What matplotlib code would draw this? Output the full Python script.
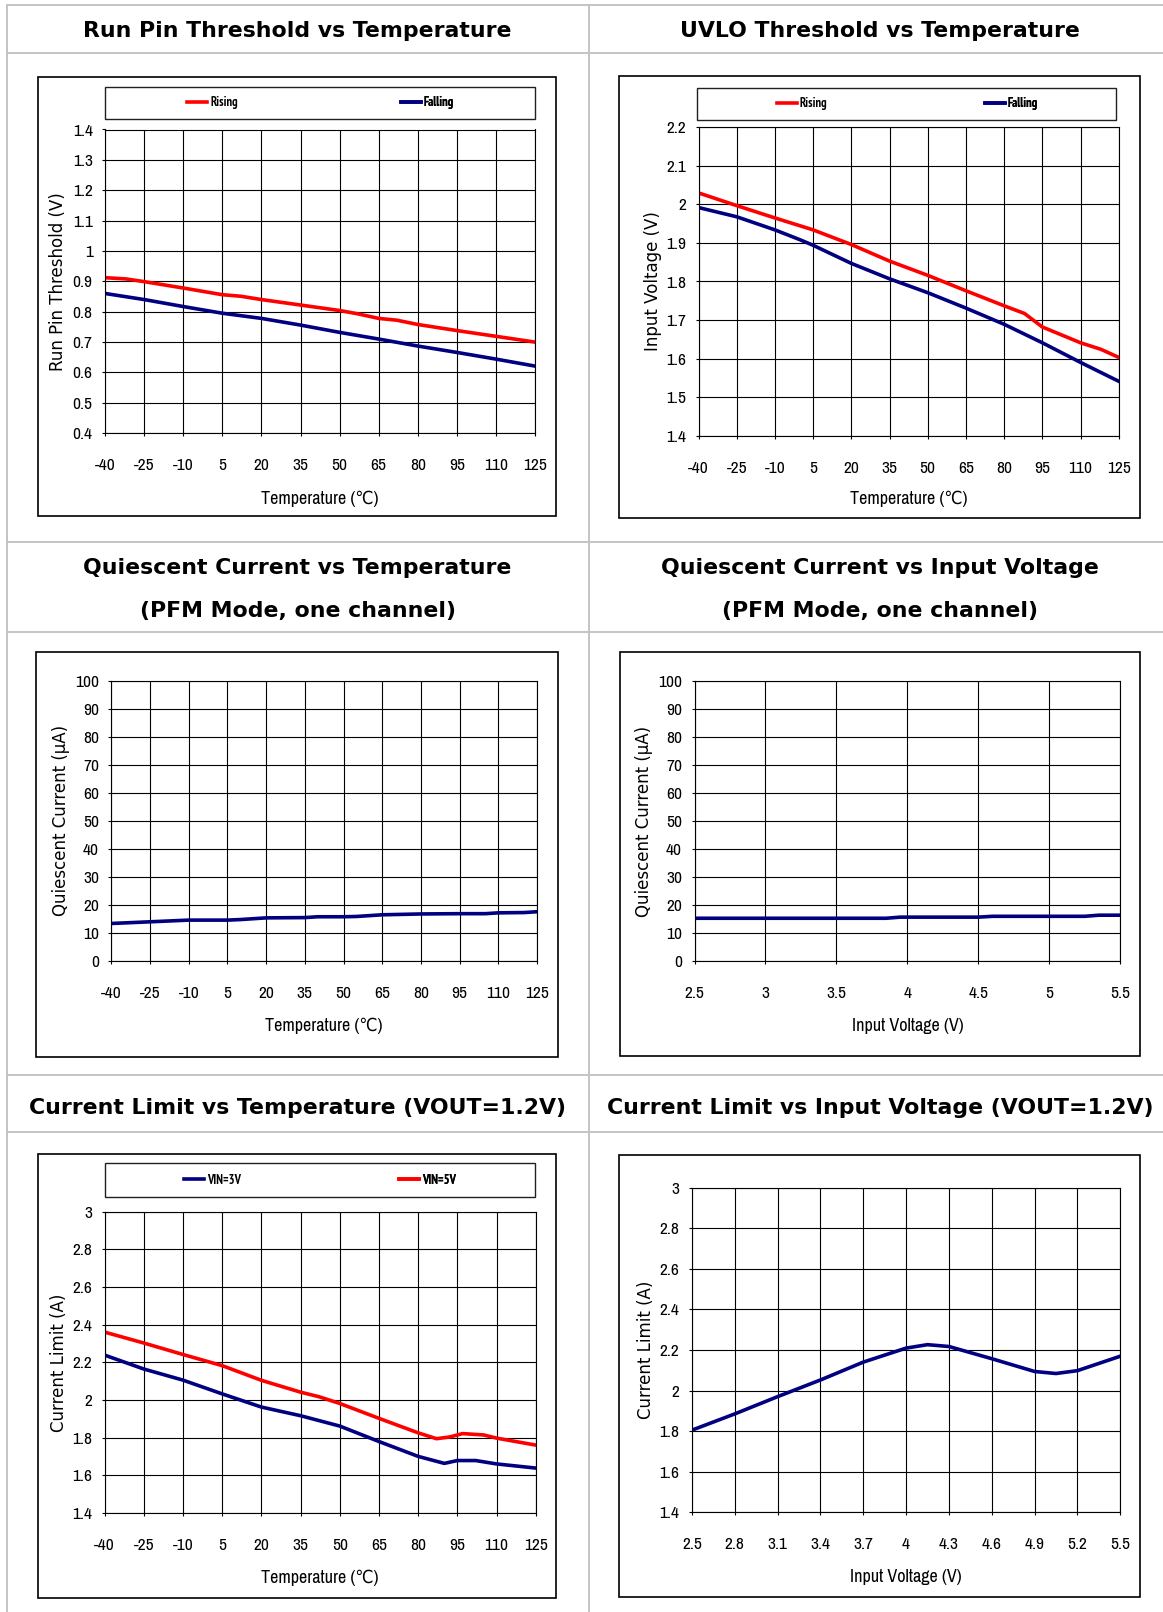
import matplotlib
matplotlib.use('Agg')
import matplotlib.pyplot as plt
from matplotlib import font_manager
from matplotlib.font_manager import FontProperties
from matplotlib.lines import Line2D
from matplotlib.patches import Rectangle

# ---- data ----
TEMP_TICKS = [-40, -25, -10, 5, 20, 35, 50, 65, 80, 95, 110, 125]
VIN_TICKS_IQ = [2.5, 3, 3.5, 4, 4.5, 5, 5.5]
VIN_TICKS_ILIM = [2.5, 2.8, 3.1, 3.4, 3.7, 4, 4.3, 4.6, 4.9, 5.2, 5.5]

RUN_YTICKS = [0.4, 0.5, 0.6, 0.7, 0.8, 0.9, 1, 1.1, 1.2, 1.3, 1.4]
RUN_RISE_T = [-40, -32, -25, -10, 5, 12, 20, 35, 50, 57, 65, 72, 80, 95, 110, 125]
RUN_RISE_V = [0.912, 0.908, 0.899, 0.878, 0.856, 0.851, 0.840, 0.822, 0.804, 0.793,
              0.778, 0.772, 0.758, 0.738, 0.719, 0.700]
RUN_FALL_T = [-40, -25, -10, 5, 20, 35, 50, 65, 80, 95, 110, 125]
RUN_FALL_V = [0.860, 0.840, 0.817, 0.795, 0.778, 0.756, 0.732, 0.710, 0.687, 0.666, 0.644, 0.621]

UVLO_YTICKS = [1.4, 1.5, 1.6, 1.7, 1.8, 1.9, 2, 2.1, 2.2]
UVLO_RISE_T = [-40, -25, -10, 5, 20, 35, 50, 65, 80, 88, 95, 110, 118, 125]
UVLO_RISE_V = [2.030, 1.997, 1.965, 1.934, 1.896, 1.853, 1.816, 1.776, 1.737, 1.717,
               1.682, 1.641, 1.624, 1.603]
UVLO_FALL_T = [-40, -25, -10, 0, 5, 20, 35, 50, 65, 80, 95, 110, 125]
UVLO_FALL_V = [1.992, 1.968, 1.934, 1.908, 1.894, 1.847, 1.807, 1.771, 1.731, 1.689,
               1.641, 1.590, 1.541]

IQ_YTICKS = [0, 10, 20, 30, 40, 50, 60, 70, 80, 90, 100]
IQ_TEMP_T = [-40, -25, -10, 5, 10, 20, 35, 40, 50, 55, 60, 65, 80, 95, 105, 110, 120, 125]
IQ_TEMP_I = [13.3, 13.9, 14.5, 14.5, 14.7, 15.3, 15.4, 15.7, 15.7, 15.8, 16.1, 16.4,
             16.7, 16.8, 16.8, 17.1, 17.2, 17.5]
IQ_VIN_V = [2.5, 3.85, 3.95, 4.5, 4.6, 5.25, 5.35, 5.5]
IQ_VIN_I = [15.2, 15.2, 15.6, 15.6, 15.9, 15.9, 16.3, 16.3]

ILIM_YTICKS = [1.4, 1.6, 1.8, 2, 2.2, 2.4, 2.6, 2.8, 3]
ILIM_5V_T = [-40, -25, -10, 5, 20, 35, 42, 50, 65, 80, 87, 92, 97, 105, 110, 125]
ILIM_5V_A = [2.361, 2.303, 2.242, 2.183, 2.105, 2.042, 2.018, 1.982, 1.903, 1.826,
             1.795, 1.804, 1.822, 1.815, 1.798, 1.761]
ILIM_3V_T = [-40, -25, -10, 5, 20, 35, 50, 65, 80, 90, 95, 102, 110, 125]
ILIM_3V_A = [2.239, 2.165, 2.106, 2.033, 1.963, 1.917, 1.862, 1.780, 1.701, 1.664,
             1.679, 1.679, 1.661, 1.639]
ILIM_VIN_V = [2.5, 2.8, 3.1, 3.4, 3.7, 4.0, 4.15, 4.3, 4.6, 4.9, 5.05, 5.2, 5.5]
ILIM_VIN_A = [1.805, 1.885, 1.970, 2.052, 2.140, 2.209, 2.226, 2.217, 2.157, 2.094,
              2.084, 2.098, 2.169]

RED = '#ff0000'
NAVY = '#000080'

W, H = 1163, 1612

STRETCH_RANK = {'condensed': 1, 'semi-condensed': 2, 'extra-condensed': 3}


def narrow_font(bold):
    # look for a narrow / condensed face to mimic the squeezed axis text
    want = 700 if bold else 400
    best = None
    for f in font_manager.fontManager.ttflist:
        if f.style != 'normal':
            continue
        w = f.weight if isinstance(f.weight, int) else (700 if 'bold' in str(f.weight) else 400)
        if abs(w - want) > 100:
            continue
        if 'Narrow' in f.name:
            rank = 0
        elif f.stretch in STRETCH_RANK:
            rank = STRETCH_RANK[f.stretch]
        else:
            continue
        score = (rank, abs(w - want))
        if best is None or score < best[0]:
            best = (score, f.name, f.stretch)
    return best[1:] if best else None


NARROW_REG = narrow_font(False)
NARROW_BOLD = narrow_font(True)


def narrow_fp(size, bold=False):
    found = NARROW_BOLD if bold else NARROW_REG
    weight = 'bold' if bold else 'normal'
    if found:
        name, stretch = found
        return FontProperties(family=[name, 'DejaVu Sans'], stretch=stretch,
                              weight=weight, size=size)
    return FontProperties(family='DejaVu Sans', weight=weight, size=size - 1.5)


fig = plt.figure(figsize=(W / 100, H / 100), dpi=100)


def fx(px):
    return px / W


def fy(py):
    return 1 - py / H


# table grid lines
GRID_GRAY = '#c4c4c4'
for y in [4.8, 52.7, 542.3, 631.7, 1075.3, 1131.5]:
    fig.add_artist(Line2D([fx(6.9), 1], [fy(y), fy(y)], color=GRID_GRAY, lw=1.4))
for x in [6.9, 588.6]:
    fig.add_artist(Line2D([fx(x), fx(x)], [fy(4.8), 0], color=GRID_GRAY, lw=1.4))

TITLES = [
    (297.5, 37.3, 'Run Pin Threshold vs Temperature'),
    (880, 37.3, 'UVLO Threshold vs Temperature'),
    (297.5, 574.5, 'Quiescent Current vs Temperature'),
    (297.5, 617.5, '(PFM Mode, one channel)'),
    (880, 574.5, 'Quiescent Current vs Input Voltage'),
    (880, 617.5, '(PFM Mode, one channel)'),
    (297.5, 1114, 'Current Limit vs Temperature (VOUT=1.2V)'),
    (880, 1114, 'Current Limit vs Input Voltage (VOUT=1.2V)'),
]
for x, y, t in TITLES:
    fig.text(fx(x), fy(y), t, ha='center', va='baseline', fontsize=15.8,
             fontweight='bold', family='DejaVu Sans')


def panel(frame, plot, xlabel, ylabel, ylab_x, xlab_y, xticks, yticks):
    l, t, r, b = frame
    fig.add_artist(Rectangle((fx(l), fy(b)), fx(r - l), (b - t) / H, transform=fig.transFigure,
                             fill=False, ec='black', lw=1.2))
    l, t, r, b = plot
    ax = fig.add_axes([fx(l), fy(b), fx(r - l), (b - t) / H])
    ax.set_xlim(xticks[0], xticks[-1])
    ax.set_ylim(yticks[0], yticks[-1])
    ax.set_xticks(xticks)
    ax.set_xticklabels([f'{v:g}' for v in xticks], fontproperties=narrow_fp(12.5))
    ax.set_yticks(yticks)
    ax.set_yticklabels([f'{v:g}' for v in yticks], fontproperties=narrow_fp(12.5))
    ax.grid(True, color='black', lw=0.8)
    ax.set_axisbelow(True)
    for s in ax.spines.values():
        s.set_color('black')
        s.set_linewidth(0.8)
    ax.tick_params(axis='x', length=2, width=0.8, pad=16)
    ax.tick_params(axis='y', length=2, width=0.8, pad=7)
    ax.set_xlabel(xlabel, fontproperties=narrow_fp(13), va='center')
    ax.xaxis.set_label_coords(0.5, -(xlab_y - b) / (b - t))
    ax.set_ylabel(ylabel, family='DejaVu Sans', fontsize=12, va='center')
    ax.yaxis.set_label_coords(-(l - ylab_x) / (r - l), 0.5)
    return ax


def legend_box(ax, box, lines, labels):
    l, t, r, b = box
    fig.add_artist(Rectangle((fx(l), fy(b)), fx(r - l), (b - t) / H, transform=fig.transFigure,
                             fill=False, ec='#202020', lw=1.0))
    half = (r - l) / 2
    for i, (ln, lab) in enumerate(zip(lines, labels)):
        cx = l + half * (i + 0.5)
        leg = ax.legend([ln], [lab], loc='center', bbox_to_anchor=(fx(cx), fy((t + b) / 2)),
                        bbox_transform=fig.transFigure, frameon=False, handlelength=1.6,
                        handletextpad=0.25, borderaxespad=0, prop=narrow_fp(9, bold=True))
        ax.add_artist(leg)


TEMP_LABEL = 'Temperature (\u2103)'
VIN_LABEL = 'Input Voltage (V)'
LW = 2.6

# Run pin threshold
ax = panel((38.3, 77.5, 556, 516.5), (105.2, 129.5, 535, 433.2), TEMP_LABEL,
           'Run Pin Threshold (V)', 58, 498.6, TEMP_TICKS, RUN_YTICKS)
l1, = ax.plot(RUN_RISE_T, RUN_RISE_V, color=RED, lw=LW, solid_joinstyle='round')
l2, = ax.plot(RUN_FALL_T, RUN_FALL_V, color=NAVY, lw=LW, solid_joinstyle='round')
legend_box(ax, (105.2, 86.8, 534.6, 118.8), [l1, l2], ['Rising', 'Falling'])

# UVLO threshold
ax = panel((619.3, 76.4, 1139.7, 518.2), (698.5, 127.4, 1118.7, 435.6), TEMP_LABEL,
           'Input Voltage (V)', 653, 499.3, TEMP_TICKS, UVLO_YTICKS)
l1, = ax.plot(UVLO_RISE_T, UVLO_RISE_V, color=RED, lw=LW, solid_joinstyle='round')
l2, = ax.plot(UVLO_FALL_T, UVLO_FALL_V, color=NAVY, lw=LW, solid_joinstyle='round')
legend_box(ax, (697.4, 87.8, 1115.8, 119.5), [l1, l2], ['Rising', 'Falling'])

# Quiescent current vs temperature
ax = panel((36.4, 651.7, 558, 1056.8), (111.4, 680.8, 537, 960.7), TEMP_LABEL,
           'Quiescent Current (\u00b5A)', 61, 1026.3, TEMP_TICKS, IQ_YTICKS)
ax.plot(IQ_TEMP_T, IQ_TEMP_I, color=NAVY, lw=LW, solid_joinstyle='round')

# Quiescent current vs input voltage
ax = panel((620, 651.7, 1139.7, 1056.1), (694.5, 681.5, 1120.2, 960.7), VIN_LABEL,
           'Quiescent Current (\u00b5A)', 644, 1026.3, VIN_TICKS_IQ, IQ_YTICKS)
ax.plot(IQ_VIN_V, IQ_VIN_I, color=NAVY, lw=LW, solid_joinstyle='round')

# Current limit vs temperature
ax = panel((38.3, 1154, 556, 1597.8), (104.5, 1211.7, 535.8, 1513.1), TEMP_LABEL,
           'Current Limit (A)', 59.3, 1577.4, TEMP_TICKS, ILIM_YTICKS)
l1, = ax.plot(ILIM_3V_T, ILIM_3V_A, color=NAVY, lw=LW, solid_joinstyle='round')
l2, = ax.plot(ILIM_5V_T, ILIM_5V_A, color=RED, lw=LW, solid_joinstyle='round')
legend_box(ax, (105.2, 1163.3, 535, 1197.2), [l1, l2], ['VIN=3V', 'VIN=5V'])

# Current limit vs input voltage
ax = panel((619.3, 1154.7, 1139.7, 1597.1), (691.9, 1187.5, 1120.2, 1512.4), VIN_LABEL,
           'Current Limit (A)', 645.8, 1577.4, VIN_TICKS_ILIM, ILIM_YTICKS)
ax.plot(ILIM_VIN_V, ILIM_VIN_A, color=NAVY, lw=LW, solid_joinstyle='round')

fig.savefig('out.png', dpi=100, facecolor='white')
